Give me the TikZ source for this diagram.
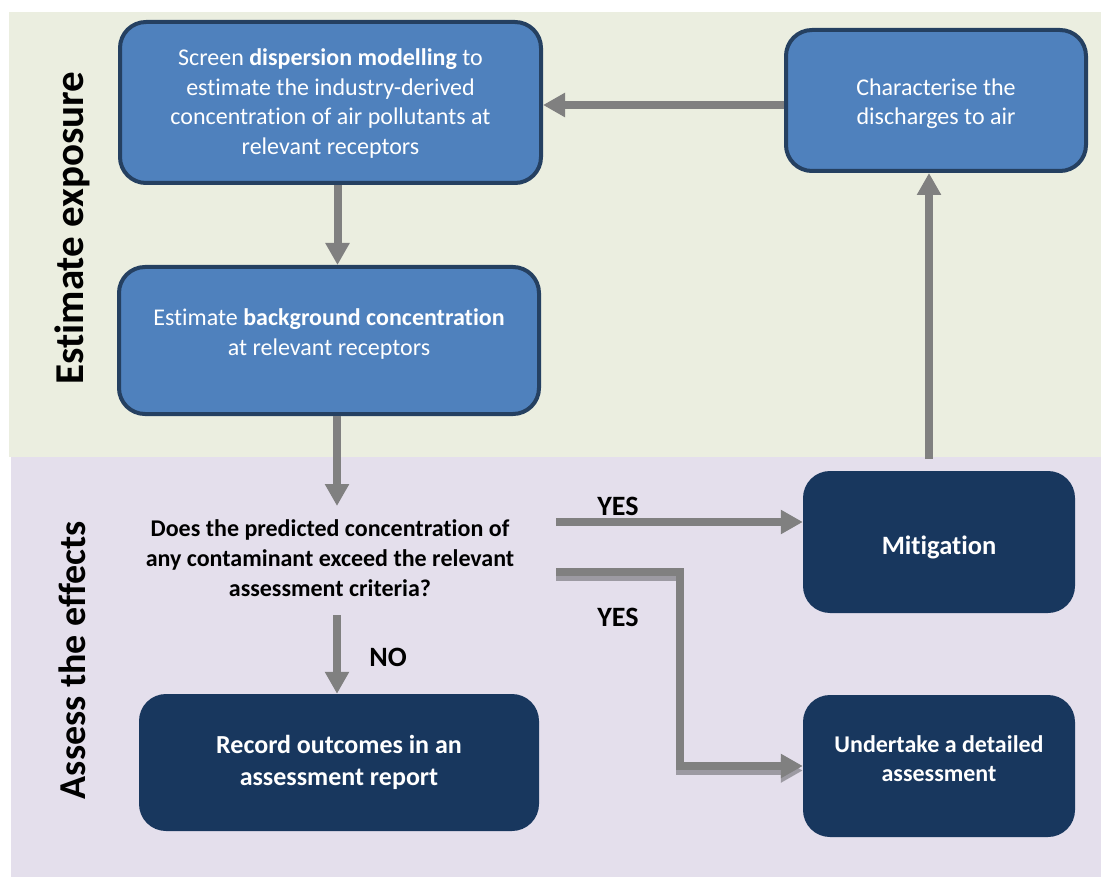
\documentclass[tikz,border=0pt]{standalone}
\usepackage{fontspec}
\setmainfont{Carlito}[Ligatures=NoCommon]
\usetikzlibrary{arrows.meta}
\definecolor{bgGreen}{HTML}{EBEEE0}
\definecolor{bgPurple}{HTML}{E4DFEC}
\definecolor{boxBlue}{HTML}{4F81BD}
\definecolor{boxEdge}{HTML}{254061}
\definecolor{boxNavy}{HTML}{18375E}
\definecolor{flowGray}{HTML}{808080}
\definecolor{flowShade}{HTML}{9C9AA2}
\begin{document}
\begin{tikzpicture}[x=1pt,y=-1pt,
  bluebox/.style={draw=boxEdge, line width=4pt, fill=boxBlue, rounded corners=26pt, inner sep=0pt},
  navybox/.style={fill=boxNavy, rounded corners=27pt, inner sep=0pt},
  boxtext/.style={text=white, align=center, inner sep=0pt, font=\fontsize{24}{29.5}\selectfont},
  navytext/.style={text=white, align=center, inner sep=0pt, font=\fontsize{24}{28.5}\selectfont\bfseries},
  sidelabel/.style={rotate=90, inner sep=0pt, font=\bfseries},
  answer/.style={inner sep=0pt, font=\fontsize{28}{30}\selectfont\bfseries},
  flow/.style={draw=flowGray, line width=8pt, -{Triangle[width=23pt,length=22pt]}},
  flowshade/.style={draw=flowShade, line width=8pt, -{Triangle[width=23pt,length=22pt]}}
]
\useasboundingbox (0,0) rectangle (1101,877);
% stage backgrounds
\fill[bgGreen] (9,12) rectangle (1101,457);
\fill[bgPurple] (11,457) rectangle (1101,877);

% stage titles
\node[sidelabel, font=\fontsize{41}{44}\selectfont\bfseries] (expo) at (72,228) {Estimate exposure};
\node[sidelabel, font=\fontsize{38}{42}\selectfont\bfseries] (effects) at (72,660) {Assess the effects};

% exposure steps
\node[bluebox, minimum width=421pt, minimum height=161pt] (screen) at (330.5,102.5) {};
\node[boxtext] (screenT) at (330.5,103.5)
  {Screen \textbf{dispersion modelling} to\\estimate the industry-derived\\concentration of air pollutants at\\relevant receptors};
\node[bluebox, minimum width=300pt, minimum height=141pt] (charac) at (936,100.5) {};
\node[boxtext] (characT) at (936,103.5) {Characterise the\\discharges to air};
\node[bluebox, minimum width=420pt, minimum height=147pt] (backg) at (329,340.5) {};
\node[boxtext] (backgT) at (329,334) {Estimate \textbf{background concentration}\\at relevant receptors};

% effects steps
\node[inner sep=0pt, align=center, font=\fontsize{24}{30}\selectfont\bfseries] (quest) at (330,558)
  {Does the predicted concentration of\\any contaminant exceed the relevant\\assessment criteria?};
\node[navybox, minimum width=272pt, minimum height=142pt] (mitig) at (939,542) {};
\node[navytext, font=\fontsize{26.5}{30}\selectfont\bfseries] (mitigT) at (939,547) {Mitigation};
\node[navybox, minimum width=400pt, minimum height=137pt] (record) at (339,762.5) {};
\node[navytext, font=\fontsize{26}{32}\selectfont\bfseries] (recordT) at (339,762.5) {Record outcomes in an\\assessment report};
\node[navybox, minimum width=272pt, minimum height=142pt] (detail) at (939,766) {};
\node[navytext] (detailT) at (939,758.5) {Undertake a detailed\\assessment};

% answers
\node[answer] (yesA) at (618,506) {YES};
\node[answer] (yesB) at (618,617) {YES};
\node[answer] (no) at (388,657) {NO};

% connector end points
\coordinate (qTop) at (337,506);
\coordinate (qBottom) at (337,615);
\coordinate (yesAstart) at (556,522);
\coordinate (yesBstart) at (556,572);
\coordinate (yesBturn) at (680,572);
\coordinate (mitigOut) at (929,459);

% connectors
\draw[flow] (screen.south -| 337.5,0) -- (backg.north -| 337.5,0);
\draw[flow] (charac.west |- 0,105) -- (screen.east |- 0,105);
\draw[flow] (backg.south -| qTop) -- (qTop);
\draw[flow] (qBottom) -- (record.north -| qBottom);
\draw[flow] (yesAstart) -- (mitig.west |- yesAstart);
\draw[flowshade, transform canvas={yshift=-4.5pt}] (yesBstart) -- (yesBturn) -- (yesBturn |- 0,766) -- (detail.west |- 0,766);
\draw[flow] (yesBstart) -- (yesBturn) -- (yesBturn |- 0,766) -- (detail.west |- 0,766);
\draw[flow] (mitigOut) -- (charac.south -| mitigOut);
\end{tikzpicture}
\end{document}
